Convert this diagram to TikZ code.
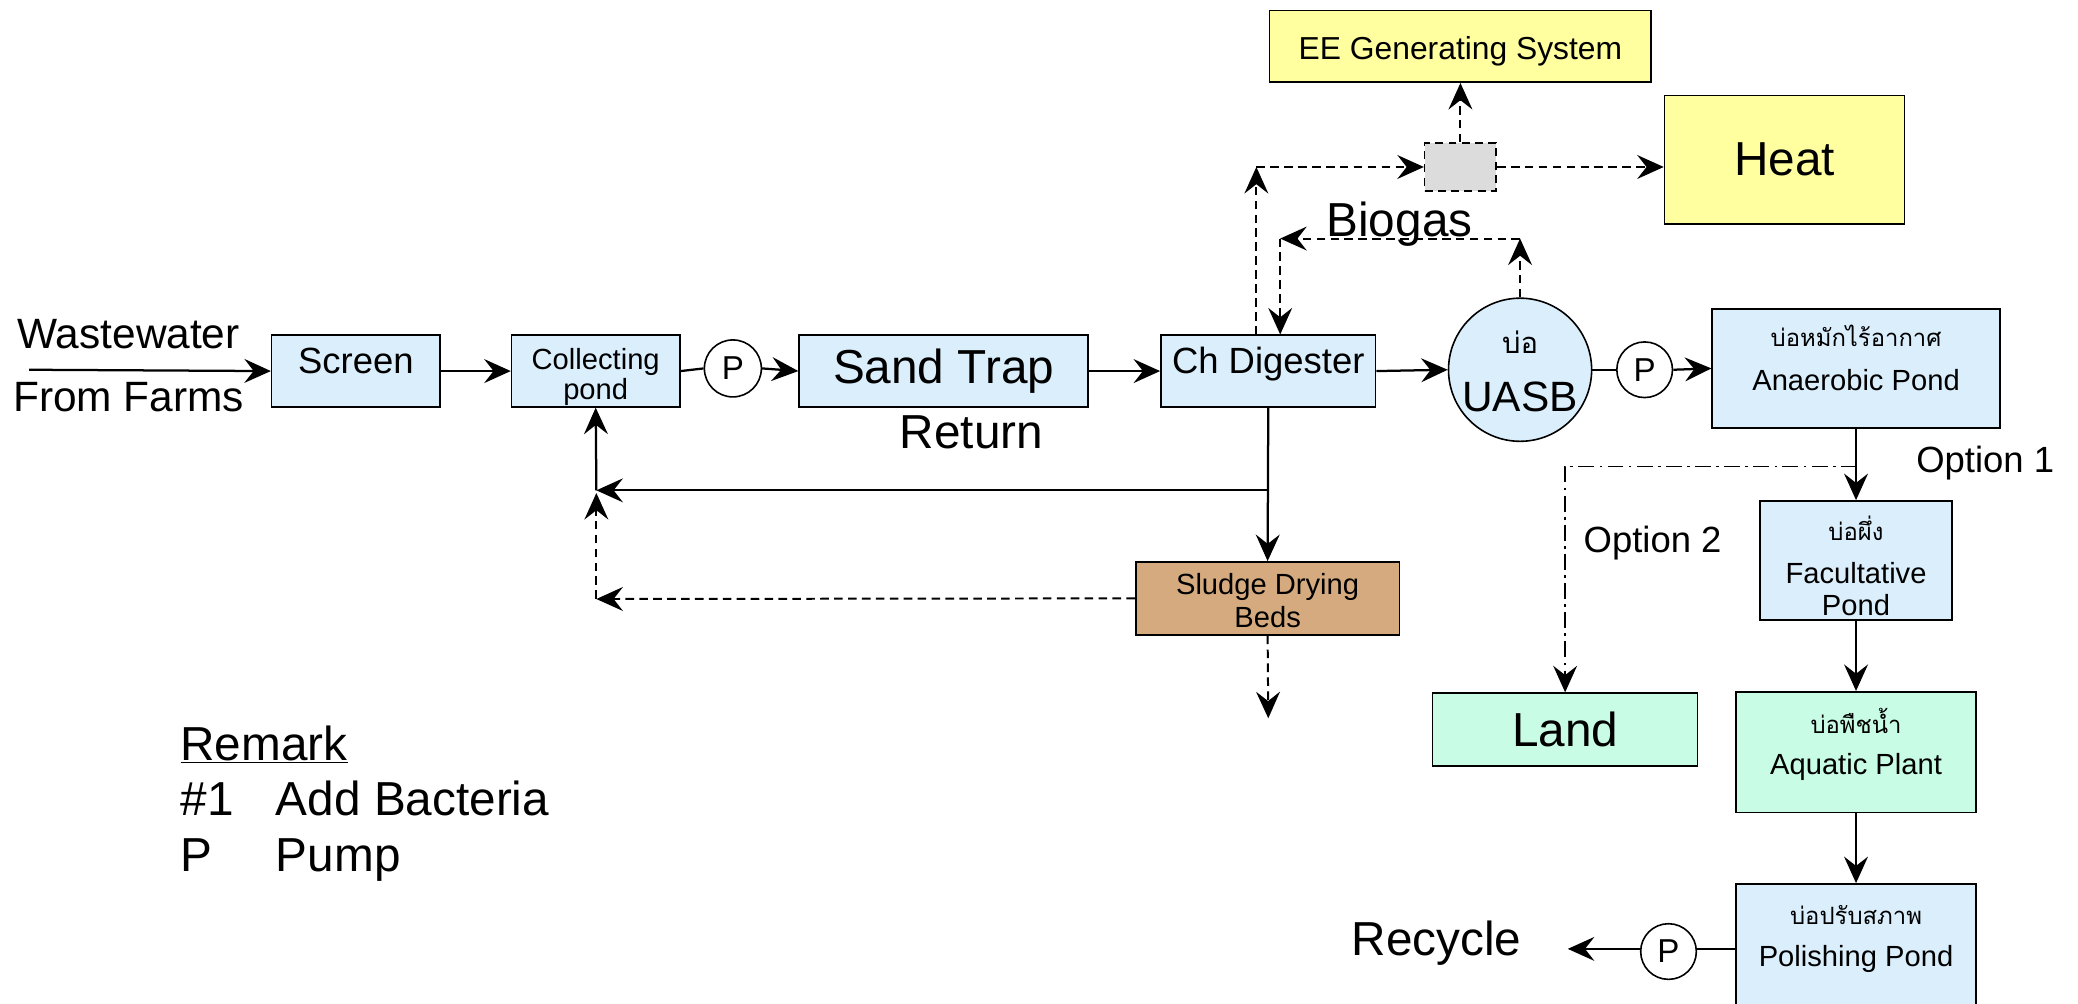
\documentclass[tikz,border=0pt]{standalone}
\usepackage{fontspec}
\setmainfont{Liberation Sans}
\newfontfamily\thaifont[Script=Thai]{Loma}
\usetikzlibrary{arrows.meta}
\definecolor{bluebox}{RGB}{218,238,252}
\definecolor{greenbox}{RGB}{200,252,228}
\definecolor{tanbox}{RGB}{212,170,126}
\definecolor{yellowbox}{RGB}{255,255,160}
\definecolor{graybox}{RGB}{220,220,220}
\tikzset{
  box/.style={draw, line width=1.2pt, rectangle, inner sep=0pt},
  bluebx/.style={box, fill=bluebox},
  greenbx/.style={box, fill=greenbox},
  tanbx/.style={box, fill=tanbox},
  yellowbx/.style={box, fill=yellowbox},
  tip/.style={-{Stealth[length=20pt,width=18pt,inset=7pt]}},
  flow/.style={line width=1.7pt, tip},
  plain/.style={line width=1.7pt},
  dsh/.style={line width=1.5pt, dash pattern=on 6.5pt off 4pt, tip},
  dashdot/.style={line width=1.4pt, dash pattern=on 12pt off 4pt on 2pt off 4pt, tip},
  pump/.style={circle, draw, line width=1.2pt, fill=white, minimum size=43pt, inner sep=0pt, font=\fontsize{25}{30}\selectfont},
  txt/.style={inner sep=0pt, anchor=mid},
  f36/.style={font=\fontsize{36}{42}\selectfont},
  f32/.style={font=\fontsize{32}{38}\selectfont},
  f28/.style={font=\fontsize{27.5}{32}\selectfont},
  f24/.style={font=\fontsize{24}{28}\selectfont},
  f22/.style={font=\fontsize{22}{26}\selectfont},
  th/.style={font=\thaifont\fontsize{18}{22}\selectfont},
}
\begin{document}
\begin{tikzpicture}[x=1pt, y=-1pt]
\useasboundingbox (0,0) rectangle (1568,757);
% ---------- boxes ----------
\node[bluebx, minimum width=127pt, minimum height=54pt] (screen) at (268.5,280) {};
\node[bluebx, minimum width=127pt, minimum height=54pt] (collect) at (449.5,280) {};
\node[bluebx, minimum width=218pt, minimum height=54pt] (sand) at (712,280) {};
\node[bluebx, minimum width=162pt, minimum height=54pt] (chd) at (957,280) {};
\node[circle, draw, line width=1.2pt, fill=bluebox, minimum size=108pt, inner sep=0pt] (uasb) at (1147,279) {};
\node[bluebx, minimum width=217pt, minimum height=90pt] (anaer) at (1400.5,278) {};
\node[bluebx, minimum width=145pt, minimum height=90pt] (facult) at (1400.5,423) {};
\node[greenbx, minimum width=181pt, minimum height=91pt] (aquatic) at (1400.5,567.5) {};
\node[bluebx, minimum width=181pt, minimum height=96pt] (polish) at (1400.5,715) {};
\node[greenbx, minimum width=200pt, minimum height=55pt] (land) at (1181,550.5) {};
\node[tanbx, minimum width=199pt, minimum height=55pt] (sludge) at (956.5,451.5) {};
\node[yellowbx, minimum width=288pt, minimum height=54pt] (ee) at (1102,35) {};
\node[yellowbx, minimum width=181pt, minimum height=97pt] (heat) at (1346.5,120.5) {};
\node[draw, line width=1.2pt, dash pattern=on 6pt off 4pt, fill=graybox, minimum width=54pt, minimum height=36pt, inner sep=0pt] (gbox) at (1102,126) {};
% ---------- pumps ----------
\node[pump] (p1) at (553,278) {P};
\node[pump, minimum size=42pt] (p2) at (1241,279) {P};
\node[pump, minimum size=42pt] (p3) at (1259,718) {P};
% ---------- texts ----------
\node[txt, f32] (tww) at (97,260) {Wastewater};
\node[txt, f32] (tff) at (97,308) {From Farms};
\node[txt, f28] (tscreen) at (268.5,279) {Screen};
\node[txt, f22] (tcoll) at (449.5,276) {Collecting};
\node[txt, f22] (tpond) at (449.5,299) {pond};
\node[txt, f36] (tsand) at (712,287) {Sand Trap};
\node[txt, f28] (tchd) at (957,279) {Ch Digester};
\node[txt, f36] (tret) at (733,336) {Return};
\node[txt, f36] (tbio) at (1056,176) {Biogas};
\node[txt, f24] (tee) at (1102,42) {EE Generating System};
\node[txt, f36] (theat) at (1346.5,130) {Heat};
\node[txt, font=\thaifont\fontsize{22}{26}\selectfont] (tbo) at (1147,264) {บ่อ};
\node[txt, f32] (tuasb) at (1147,308) {UASB};
\node[txt, th] (tanth) at (1400.5,259) {บ่อหมักไร้อากาศ};
\node[txt, f22] (tan) at (1400.5,292) {Anaerobic Pond};
\node[txt, f28] (topt1) at (1498,354) {Option 1};
\node[txt, f28] (topt2) at (1247,414) {Option 2};
\node[txt, th] (tfacth) at (1400.5,405) {บ่อผึ่ง};
\node[txt, f22] (tfac) at (1400.5,438) {Facultative};
\node[txt, f22] (tfacp) at (1400.5,462) {Pond};
\node[txt, f36] (tland) at (1181,561) {Land};
\node[txt, th] (taqth) at (1400.5,551) {บ่อพืชน้ำ};
\node[txt, f22] (taq) at (1400.5,582) {Aquatic Plant};
\node[txt, th] (tpolth) at (1400.5,695) {บ่อปรับสภาพ};
\node[txt, f22] (tpol) at (1400.5,727) {Polishing Pond};
\node[txt, f36] (trec) at (1084,718) {Recycle};
\node[txt, f22] (tsl1) at (956.5,446) {Sludge Drying};
\node[txt, f22] (tsl2) at (956.5,471) {Beds};
\node[txt, f36, anchor=mid west] (trem) at (136,571) {\underline{Remark}};
\node[txt, f36, anchor=mid west] (tr1a) at (136,613) {\#1};
\node[txt, f36, anchor=mid west] (tr1b) at (208,613) {Add Bacteria};
\node[txt, f36, anchor=mid west] (tr2a) at (136,655) {P};
\node[txt, f36, anchor=mid west] (tr2b) at (208,655) {Pump};
% ---------- coordinates ----------
\coordinate (in) at (22,279);
\coordinate (j1) at (957,370);
\coordinate (j2) at (450,370);
\coordinate (j3) at (450,452);
\coordinate (sd) at (957,542);
\coordinate (b1) at (948,126);
\coordinate (b2) at (1147,180);
\coordinate (b3) at (966,180);
\coordinate (o2) at (1401,352);
\coordinate (rc) at (1183,716);
% ---------- main flow ----------
\draw[flow] (in) -- (screen.west);
\draw[flow] (screen.east) -- (collect.west);
\draw[plain] (collect.east) -- (p1.west);
\draw[flow] (p1.east) -- (sand.west);
\draw[flow] (sand.east) -- (chd.west);
\draw[flow] (chd.east) -- (uasb.west);
\draw[plain] (uasb.east) -- (p2.west);
\draw[flow] (p2.east) -- (anaer.west);
\draw[flow] (anaer.south) -- (facult.north);
\draw[flow] (facult.south) -- (aquatic.north);
\draw[flow] (aquatic.south) -- (polish.north);
\draw[plain] (polish.west |- rc) -- (p3.east |- rc);
\draw[flow] (p3.west |- rc) -- (rc);
\draw[dashdot] (o2) -| (land.north);
% ---------- return / sludge ----------
\draw[flow] (chd.south) -- (sludge.north);
\draw[flow] (j1) -- (j2);
\draw[flow] (j2) -- (collect.south);
\draw[dsh] (sludge.west) -- (j3);
\draw[dsh] (j3) -- ([yshift=-2pt]j2);
\draw[dsh] (sludge.south) -- (sd);
% ---------- biogas ----------
\draw[dsh] (chd.north -| b1) -- (b1);
\draw[dsh] (b1) -- (gbox.west);
\draw[dsh] (gbox.north) -- (ee.south);
\draw[dsh] (gbox.east) -- (gbox.east -| heat.west);
\draw[dsh] (uasb.north) -- (b2);
\draw[dsh] (b2) -- (b3);
\draw[dsh] (b3) -- (chd.north -| b3);
\end{tikzpicture}
\end{document}
